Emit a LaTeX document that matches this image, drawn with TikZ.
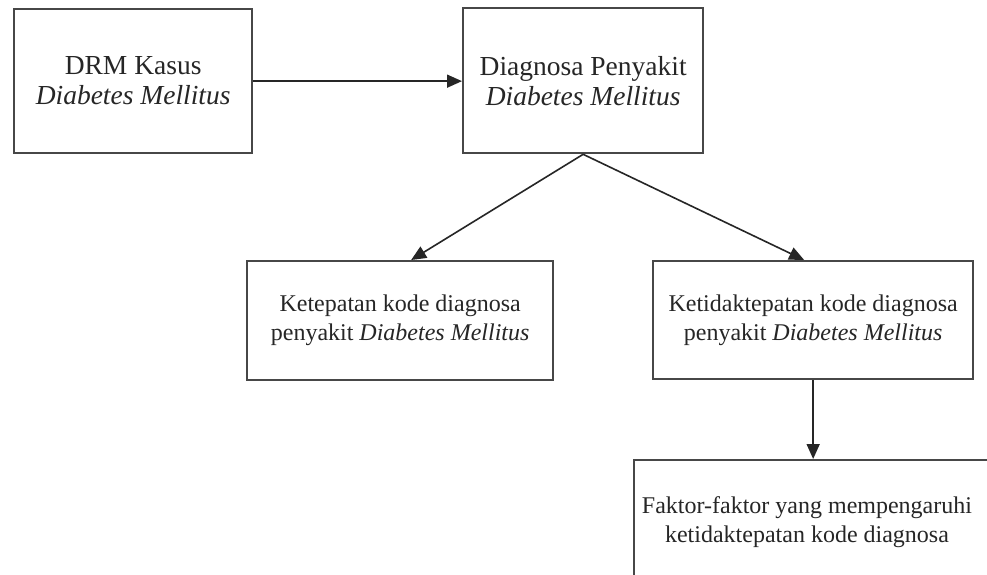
\documentclass[tikz,border=0pt]{standalone}
\usepackage{fontspec}
\setmainfont{Liberation Serif}
\usetikzlibrary{arrows.meta,calc}
\begin{document}
\begin{tikzpicture}[x=1pt,y=-1pt,
  box/.style={draw=black!72, line width=2.3pt, inner sep=0pt, align=center, anchor=north west, text=black!85},
  bigtext/.style={font=\fontsize{27.5}{30}\selectfont},
  smalltext/.style={font=\fontsize{24}{29}\selectfont},
  conn/.style={line width=1.6pt, draw=black!85, -{Triangle[length=15pt,width=13pt]}}]
\useasboundingbox (0,0) rectangle (987,575);
\fill[white] (0,0) rectangle (987,575);
\node[box, bigtext, minimum width=238pt, minimum height=144pt] (f1) at (13,8) {DRM Kasus\\\textit{Diabetes Mellitus}};
\node[box, bigtext, minimum width=240pt, minimum height=145pt] (f2) at (462,7) {Diagnosa Penyakit\\\textit{Diabetes Mellitus}};
\node[box, smalltext, minimum width=306pt, minimum height=119pt] (f3) at (246,260) {Ketepatan kode diagnosa\\penyakit \textit{Diabetes Mellitus}};
\node[box, smalltext, minimum width=320pt, minimum height=118pt] (f4) at (652,260) {Ketidaktepatan kode diagnosa\\penyakit \textit{Diabetes Mellitus}};
\node[box, minimum width=400pt, minimum height=200pt] (f5) at (633,459) {};
\node[smalltext, align=center, text=black!85, inner sep=0pt] (f5t) at (807,522) {Faktor-faktor yang mempengaruhi\\ketidaktepatan kode diagnosa};
\draw[conn] (f1.east) -- (f2.west |- f1.east);
\draw[conn] (f2.south) -- ($(f3.north)+(11,0)$);
\draw[conn] (f2.south) -- ($(f4.north)+(-9,0)$);
\draw[conn] (f4.south) -- (f4.south |- f5.north);
\end{tikzpicture}
\end{document}
